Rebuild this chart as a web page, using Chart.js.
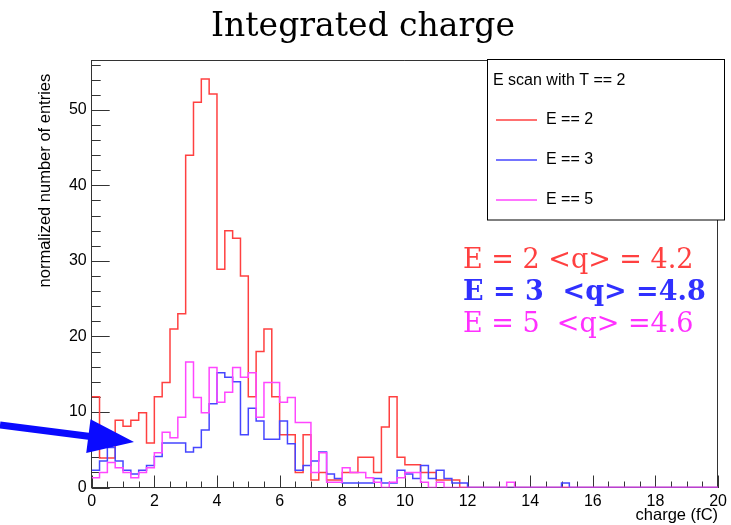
<!doctype html>
<html lang="en">
<head>
  <meta charset="utf-8">
  <title>Integrated charge</title>
  <style>
    html, body { margin: 0; padding: 0; background: #fff; }
  </style>
</head>
<body>
  <canvas id="myChart" width="731" height="525"></canvas>

  <script src="https://cdn.jsdelivr.net/npm/chart.js@4.4.2/dist/chart.umd.min.js"></script>
  <script>
    // histogram bins: 80 bins of 0.25 fC from 0 to 20
    const binWidth = 0.25;

    // E == 2
    const dataE2 = [12, 3.9, 3.9, 8.9, 8.1, 8.9, 9.9, 5.9, 12, 13.9,
      21, 23, 44, 51, 54.1, 52.1, 28.9, 34, 33, 28,
      12, 18, 21, 12, 7, 7, 2, 7, 1, 2,
      1, 1, 2, 2, 4, 4, 2, 8, 12, 4,
      3, 3, 2, 2, 1, 1, 1, 0, 0, 0,
      0, 0, 0, 0, 0, 0, 0, 0, 0, 0,
      0, 0, 0, 0, 0, 0, 0, 0, 0, 0,
      0, 0, 0, 0, 0, 0, 0, 0, 0, 0];

    // E == 3
    const dataE3 = [2.3, 3.5, 5.3, 3.5, 2.3, 1.8, 2.3, 2.9, 4.1, 5.9,
      5.9, 5.9, 4.7, 5.3, 7.6, 11.1, 15.2, 14.6, 14.0, 7.0,
      10.5, 8.8, 6.4, 6.4, 8.8, 5.8, 2.3, 2.9, 3.5, 4.7,
      1.8, 1.2, 0.6, 0.6, 0.6, 0.6, 1.2, 0.6, 0.6, 2.3,
      1.8, 1.2, 2.9, 1.2, 2.3, 1.2, 0.6, 0.6, 0, 0,
      0, 0, 0, 0, 0, 0, 0, 0, 0, 0,
      0.6, 0, 0, 0, 0, 0, 0, 0, 0, 0,
      0, 0, 0, 0, 0, 0, 0, 0, 0, 0];

    // E == 5
    const dataE5 = [1.3, 2.0, 3.3, 2.6, 2.0, 1.3, 2.0, 2.6, 4.6, 7.3,
      6.6, 9.3, 16.6, 11.9, 9.9, 15.9, 11.3, 12.6, 15.9, 14.6,
      15.2, 9.3, 13.9, 13.9, 11.3, 11.9, 8.6, 8.6, 2.0, 4.6,
      0.7, 0.7, 2.6, 2.0, 2.0, 1.3, 0.7, 0, 0.7, 1.3,
      2.0, 2.0, 0.7, 0, 0.7, 0, 0, 0, 0, 0,
      0, 0, 0, 0.7, 0, 0, 0, 0, 0, 0,
      0, 0, 0, 0, 0, 0, 0, 0, 0, 0,
      0, 0, 0, 0, 0, 0, 0, 0, 0, 0];

    const xTicks = [0, 2, 4, 6, 8, 10, 12, 14, 16, 18, 20];
    const yTicks = [0, 10, 20, 30, 40, 50];
    const legendTitle = 'E scan with T == 2';
    const seriesNames = ['E == 2', 'E == 3', 'E == 5'];
    const meanLabels = ['E = 2 <q> = 4.2', 'E = 3  <q> =4.8', 'E = 5  <q> =4.6'];

    const colRed = '#ff4040';
    const colBlue = '#4646ff';
    const colPink = '#ff46ff';
    const sans = '"Liberation Sans", Arial, sans-serif';
    const serif = '"DejaVu Serif", serif';

    function histPoints(values) {
      const pts = values.map((v, i) => ({ x: i * binWidth, y: v }));
      pts.push({ x: values.length * binWidth, y: 0 });
      return pts;
    }

    // ROOT style frame: inward ticks, top/right frame lines
    const rootFrame = {
      id: 'rootFrame',
      beforeDatasetsDraw(chart) {
        const { ctx, chartArea: a, scales: { x, y } } = chart;
        ctx.save();
        ctx.strokeStyle = '#333';
        ctx.lineWidth = 1;
        ctx.beginPath();
        ctx.moveTo(a.left, Math.round(a.top) + 0.5);
        ctx.lineTo(a.right, Math.round(a.top) + 0.5);
        ctx.moveTo(Math.round(a.right) - 0.5, a.top);
        ctx.lineTo(Math.round(a.right) - 0.5, a.bottom);
        for (let i = 0; i <= 40; i++) {
          const px = Math.round(x.getPixelForValue(i * 0.5)) + 0.5;
          const len = i % 4 === 0 ? 12 : 6;
          ctx.moveTo(px, a.bottom);
          ctx.lineTo(px, a.bottom - len);
        }
        for (let i = 0; i <= 28; i++) {
          const py = Math.round(y.getPixelForValue(i * 2)) + 0.5;
          const len = i % 5 === 0 ? 18 : 9;
          ctx.moveTo(a.left, py);
          ctx.lineTo(a.left + len, py);
        }
        ctx.stroke();
        ctx.restore();
      },
      afterDraw(chart) {
        const { ctx } = chart;
        const cols = [colRed, colBlue, colPink];
        ctx.save();

        // legend box
        ctx.fillStyle = '#fff';
        ctx.fillRect(487.5, 59.5, 237, 160.5);
        ctx.strokeStyle = '#000';
        ctx.lineWidth = 1;
        ctx.strokeRect(487.5, 59.5, 237, 160.5);
        ctx.fillStyle = '#000';
        ctx.font = '16px ' + sans;
        ctx.textBaseline = 'middle';
        ctx.textAlign = 'left';
        ctx.fillText(legendTitle, 493, 81);
        seriesNames.forEach((name, i) => {
          const ly = 120 + i * 40;
          ctx.strokeStyle = cols[i];
          ctx.lineWidth = 1.5;
          ctx.beginPath();
          ctx.moveTo(496, ly);
          ctx.lineTo(537, ly);
          ctx.stroke();
          ctx.fillStyle = '#000';
          ctx.fillText(name, 546, ly);
        });

        // mean charge annotations
        ctx.textBaseline = 'alphabetic';
        ctx.font = '27px ' + serif;
        ctx.fillStyle = colRed;
        ctx.fillText(meanLabels[0], 463, 268);
        ctx.font = 'bold 27px ' + serif;
        ctx.fillStyle = '#3030ff';
        ctx.fillText(meanLabels[1], 463, 300);
        ctx.font = '27px ' + serif;
        ctx.fillStyle = '#ff30ff';
        ctx.fillText(meanLabels[2], 463, 332);

        // blue arrow
        const tip = [134, 442], tail = [0, 425];
        const dx = tip[0] - tail[0], dy = tip[1] - tail[1];
        const len = Math.hypot(dx, dy);
        const ux = dx / len, uy = dy / len;
        const headLen = 46, headHalf = 17, shaftHalf = 3.5;
        const bx = tip[0] - ux * headLen, by = tip[1] - uy * headLen;
        ctx.fillStyle = '#0a0aff';
        ctx.beginPath();
        ctx.moveTo(tail[0] + uy * shaftHalf, tail[1] - ux * shaftHalf);
        ctx.lineTo(bx + uy * shaftHalf, by - ux * shaftHalf);
        ctx.lineTo(bx + uy * headHalf, by - ux * headHalf);
        ctx.lineTo(tip[0], tip[1]);
        ctx.lineTo(bx - uy * headHalf, by + ux * headHalf);
        ctx.lineTo(bx - uy * shaftHalf, by + ux * shaftHalf);
        ctx.lineTo(tail[0] - uy * shaftHalf, tail[1] + ux * shaftHalf);
        ctx.closePath();
        ctx.fill();
        ctx.restore();
      }
    };

    const ctx = document.getElementById('myChart');

    new Chart(ctx, {
      type: 'line',
      data: {
        datasets: [{
          label: seriesNames[0],
          data: histPoints(dataE2),
          borderColor: colRed,
          order: 3
        }, {
          label: seriesNames[1],
          data: histPoints(dataE3),
          borderColor: colBlue,
          order: 2
        }, {
          label: seriesNames[2],
          data: histPoints(dataE5),
          borderColor: colPink,
          order: 1
        }]
      },
      options: {
        responsive: false,
        animation: false,
        devicePixelRatio: 1,
        layout: { padding: { left: 0, right: 5, top: 0, bottom: 0 } },
        elements: {
          line: { borderWidth: 1.5, stepped: true, fill: false, tension: 0 },
          point: { radius: 0 }
        },
        plugins: {
          legend: { display: false },
          tooltip: { enabled: false },
          title: {
            display: true,
            text: 'Integrated charge',
            color: '#000',
            font: { family: serif, size: 33, weight: 'normal', lineHeight: 1.2 },
            padding: { top: 8, bottom: 12.4 }
          }
        },
        scales: {
          x: {
            type: 'linear',
            min: 0,
            max: 20,
            grid: { display: false, drawTicks: false },
            border: { display: true, color: '#333', width: 1 },
            afterBuildTicks: (s) => { s.ticks = xTicks.map(v => ({ value: v })); },
            afterFit: (s) => { s.height = 37.5; },
            ticks: {
              color: '#000', padding: 4, autoSkip: false, maxRotation: 0,
              font: { family: sans, size: 16 }
            },
            title: {
              display: true, text: 'charge (fC)', align: 'end', color: '#000',
              font: { family: sans, size: 16.5 }, padding: { top: 0, bottom: 0 }
            }
          },
          y: {
            min: 0,
            max: 56.6,
            grid: { display: false, drawTicks: false },
            border: { display: true, color: '#333', width: 1 },
            afterBuildTicks: (s) => { s.ticks = yTicks.map(v => ({ value: v })); },
            afterFit: (s) => { s.width = 91.7; },
            ticks: {
              color: '#000', padding: 5,
              font: { family: sans, size: 16 }
            },
            title: {
              display: true, text: 'normalized number of entries   ', align: 'end', color: '#000',
              font: { family: sans, size: 16.5 }, padding: { top: 36, bottom: 0 }
            }
          }
        }
      },
      plugins: [rootFrame]
    });
  </script>
</body>
</html>
